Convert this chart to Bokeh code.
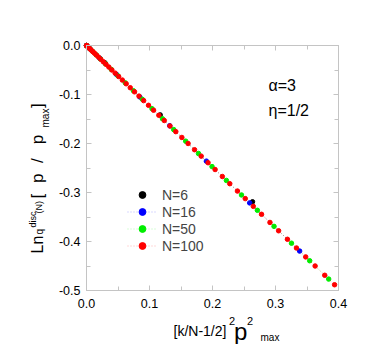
import math
from bokeh.plotting import figure
from bokeh.models import (Range1d, LinearAxis, SingleIntervalTicker, PrintfTickFormatter,
                          Label, Legend, LegendItem)
from bokeh.embed import file_html
from bokeh.resources import INLINE

# ---------------- data ----------------
n6_x = [0.0, 0.0292, 0.117, 0.2635]
n6_y = [0.0, -0.0353, -0.1416, -0.3190]

n16_x = [0.0, 0.00529, 0.02114, 0.04757, 0.08456, 0.1321, 0.1903, 0.2590, 0.3383]
n16_y = [0.0, -0.0066, -0.0262, -0.0590, -0.1049, -0.1638, -0.2360, -0.3212, -0.4195]

n50_x = [0.0, 0.000615, 0.00246, 0.00554, 0.00984, 0.01538, 0.02214, 0.03014, 0.03936,
         0.04982, 0.0615, 0.07442, 0.08857, 0.10394, 0.12055, 0.13838, 0.15745, 0.17774,
         0.19927, 0.22203, 0.24602, 0.27123, 0.29768, 0.32536, 0.35426, 0.3844]
n50_y = [0.0, -0.00076, -0.00305, -0.00687, -0.0122, -0.01907, -0.02745, -0.03737, -0.0488,
         -0.06178, -0.07626, -0.09228, -0.10983, -0.12889, -0.14948, -0.17159, -0.19524, -0.2204,
         -0.2471, -0.27532, -0.30506, -0.33633, -0.36912, -0.40345, -0.43928, -0.47666]

n100_x = [0.0, 0.00016, 0.00063, 0.00142, 0.00252, 0.00394, 0.00567, 0.00772, 0.01008, 0.01276,
          0.01575, 0.01906, 0.02268, 0.02662, 0.03087, 0.03544, 0.04032, 0.04552, 0.05103, 0.05686,
          0.063, 0.06946, 0.07623, 0.08332, 0.09072, 0.09844, 0.10647, 0.11482, 0.12348, 0.13246,
          0.14175, 0.15136, 0.16128, 0.17152, 0.18207, 0.19294, 0.20412, 0.21562, 0.22743, 0.23956,
          0.252, 0.26476, 0.27783, 0.29122, 0.30492, 0.31894, 0.33327, 0.34792, 0.36288, 0.37816,
          0.39375]
n100_y = [0.0, -0.0002, -0.00078, -0.00176, -0.00312, -0.00488, -0.00703, -0.00957, -0.0125, -0.01582,
          -0.01953, -0.02363, -0.02812, -0.03301, -0.03828, -0.04394, -0.05, -0.05644, -0.06328, -0.07051,
          -0.07812, -0.08613, -0.09453, -0.10331, -0.11249, -0.12206, -0.13202, -0.14237, -0.15312, -0.16425,
          -0.17577, -0.18769, -0.19999, -0.21268, -0.22577, -0.23924, -0.25311, -0.26737, -0.28201, -0.29705,
          -0.31248, -0.3283, -0.34451, -0.36111, -0.3781, -0.39548, -0.41325, -0.43142, -0.44997, -0.46892,
          -0.48825]

x_lim = (0.0, 0.4)
y_lim = (-0.5, 0.0)
series_labels = ["N=6", "N=16", "N=50", "N=100"]
param_texts = ["\u03b1=3", "\u03b7=1/2"]

# ---------------- figure ----------------
FONT = "Liberation Sans"
GRAY = "#c4c4c4"
W, H = 366, 344
# plotting box in page pixels
BL, BR, BT, BB = 86.0, 338.0, 45.0, 290.0
sxu = (BR - BL) / (x_lim[1] - x_lim[0])
syu = (BB - BT) / (y_lim[1] - y_lim[0])

# the frame covers the whole canvas so that texts outside the box are not clipped
p = figure(width=W, height=H, output_backend="svg", toolbar_location=None,
           x_range=Range1d(x_lim[0] - BL / sxu, x_lim[1] + (W - BR) / sxu),
           y_range=Range1d(y_lim[0] - (H - BB) / syu, y_lim[1] + BT / syu),
           min_border=0, min_border_left=0, min_border_right=0,
           min_border_top=0, min_border_bottom=0,
           x_axis_location=None, y_axis_location=None)
p.grid.visible = False
p.outline_line_color = None
p.background_fill_color = "white"
p.border_fill_color = "white"


def make_axis(show_labels, fixed, bounds):
    ax = LinearAxis(ticker=SingleIntervalTicker(interval=0.1, num_minor_ticks=2),
                    formatter=PrintfTickFormatter(format="%.1f"),
                    fixed_location=fixed, bounds=bounds)
    ax.axis_line_color = GRAY
    ax.major_tick_line_color = GRAY
    ax.minor_tick_line_color = GRAY
    ax.major_tick_in = 5
    ax.major_tick_out = 0
    ax.minor_tick_in = 4
    ax.minor_tick_out = 0
    ax.major_label_text_font = FONT
    ax.major_label_text_font_size = "12.5px"
    ax.major_label_text_color = "black"
    if not show_labels:
        ax.major_label_text_alpha = 0
        ax.major_label_text_font_size = "1px"
        ax.major_label_standoff = 0
    return ax


bx = make_axis(True, y_lim[0], x_lim)
bx.major_label_standoff = 8
ly = make_axis(True, x_lim[0], y_lim)
ly.major_label_standoff = 6
p.add_layout(bx, "below")
p.add_layout(ly, "left")
p.add_layout(make_axis(False, y_lim[1], x_lim), "above")
p.add_layout(make_axis(False, x_lim[1], y_lim), "right")

colors = ["black", "#0000ff", "#00ee00", "#ff0000"]
xs = [n6_x, n16_x, n50_x, n100_x]
ys = [n6_y, n16_y, n50_y, n100_y]

items = []
for i, (x, y, c, lab) in enumerate(zip(xs, ys, colors, series_labels)):
    rends = []
    if i > 0:
        ln = p.line(x, y, line_color=c, line_alpha=0.3, line_width=1, line_dash="1 2")
        rends.append(ln)
    sc = p.scatter(x, y, marker="circle", size=4.5, fill_color=c, line_color=c)
    rends.append(sc)
    items.append(LegendItem(label=lab, renderers=rends))

legend = Legend(items=items, location=(127, H - 254), padding=0, margin=0, spacing=0,
                glyph_width=30, glyph_height=17, label_height=17, label_standoff=5,
                border_line_alpha=0, background_fill_alpha=0,
                label_text_font=FONT, label_text_font_size="14px")
p.add_layout(legend, "center")


def txt(px, py, s, size, angle=0.0):
    # screen units: from the canvas' bottom-left corner (frame == canvas)
    p.add_layout(Label(x=px, y=H - py, x_units="screen", y_units="screen",
                       text=s, text_font=FONT, text_font_size=size,
                       text_color="black", text_align="left", text_baseline="alphabetic",
                       angle=angle, angle_units="rad"))


# parameter annotations
txt(268, 85, param_texts[0], "16px")
txt(268, 110, param_texts[1], "16px")

# x-axis label: [k/N-1/2]^2 p^2_max
txt(173, 330, "[k/N-1/2]", "14px")
txt(228.5, 320, "2", "11px")
txt(233.5, 330.5, "p", "24px")
txt(246.5, 320, "2", "11px")
txt(260, 336.5, "max", "10px")

# y-axis label: Ln_q^disc_(N) [ p / p_max ]
R = math.pi / 2
S = -3
txt(40 + S, 253, "Ln", "16px", R)
txt(42 + S, 234, "q", "10px", R)
txt(35 + S, 227, "disc", "9px", R)
txt(41 + S, 213, "(N)", "9px", R)
txt(40 + S, 198, "[", "17px", R)
txt(40 + S, 182.5, "p", "17px", R)
txt(40 + S, 162.5, "/", "17px", R)
txt(40 + S, 143.7, "p", "17px", R)
txt(47.5 + S, 127, "max", "10px", R)
txt(40 + S, 107.5, "]", "17px", R)

open("out.html", "w").write(file_html(p, INLINE))
